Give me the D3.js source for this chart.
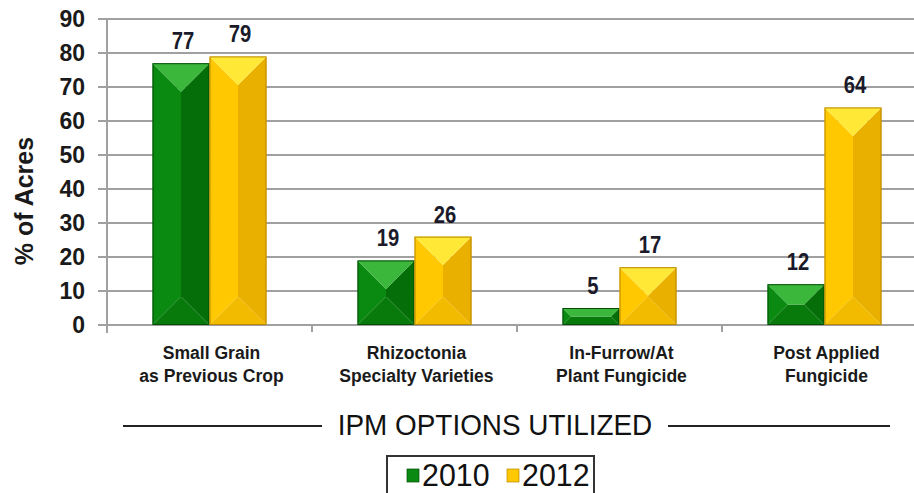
<!DOCTYPE html>
<html><head><meta charset="utf-8">
<script src="https://cdn.jsdelivr.net/npm/d3@7"></script>
<style>
body{margin:0;background:#fff;}
svg{display:block;}
</style></head>
<body>
<svg id="c" width="914" height="493"></svg>
<script>
const categories = [
  ["Small Grain","as Previous Crop"],
  ["Rhizoctonia","Specialty Varieties"],
  ["In-Furrow/At","Plant Fungicide"],
  ["Post Applied","Fungicide"]
];
const seriesNames = ["2010","2012"];
const values2010 = [77, 19, 5, 12];
const values2012 = [79, 26, 17, 64];
const yTicks = [0,10,20,30,40,50,60,70,80,90];
const axisTitle = "% of Acres";
const xTitle = "IPM OPTIONS UTILIZED";

const svg = d3.select("#c");
const pL = 107, pR = 927, pT = 19, pB = 325;
const y = d3.scaleLinear().domain([0,90]).range([pB, pT]);
const x = d3.scaleBand().domain(d3.range(categories.length)).range([pL, pR]).paddingInner(0).paddingOuter(0);
const font = "Liberation Sans, Arial, sans-serif";

// gridlines
const g = svg.append("g");
g.selectAll("line.grid").data(yTicks).join("line")
  .attr("x1", pL - 9).attr("x2", 914)
  .attr("y1", d => y(d)).attr("y2", d => y(d))
  .attr("stroke", "#a0a0a0").attr("stroke-width", 2);
g.append("line").attr("x1", pL).attr("x2", pL).attr("y1", pT).attr("y2", pB + 8)
  .attr("stroke", "#a0a0a0").attr("stroke-width", 2);
g.selectAll("line.ct").data(d3.range(1, categories.length)).join("line")
  .attr("x1", d => x(d)).attr("x2", d => x(d))
  .attr("y1", pB).attr("y2", pB + 7)
  .attr("stroke", "#a0a0a0").attr("stroke-width", 2);

// y tick labels
g.selectAll("text.yt").data(yTicks).join("text")
  .attr("x", pL - 22).attr("y", d => y(d) + 8)
  .attr("text-anchor", "end")
  .attr("font-family", font)
  .attr("font-weight", "bold").attr("font-size", 23)
  .attr("fill", "#1a1a1a")
  .text(d => d);

// y axis title
svg.append("text")
  .attr("transform", `translate(33,201) rotate(-90)`)
  .attr("text-anchor", "middle")
  .attr("font-family", font)
  .attr("font-weight", "bold").attr("font-size", 25)
  .attr("fill", "#1a1a1a")
  .text(axisTitle);

const palette = {
  "2010": {left:"#0a8a10", right:"#056e09", top:"#3bb83b", bottom:"#077a0b", edge:"#034d06"},
  "2012": {left:"#ffc800", right:"#e9b000", top:"#ffe836", bottom:"#f2bb00", edge:"#b88800"}
};

const data = [];
categories.forEach((c, i) => {
  data.push({i, s:"2010", v: values2010[i]});
  data.push({i, s:"2012", v: values2012[i]});
});

const barW = 57;
function bx(d){ return x(d.i) + x.bandwidth()/2 + (d.s === "2010" ? -barW : 0); }

const bars = svg.append("g").selectAll("g.bar").data(data).join("g");
bars.each(function(d){
  const gg = d3.select(this);
  const x0 = bx(d), x1 = x0 + barW, y0 = y(d.v), y1 = y(0);
  const w = x1 - x0, h = y1 - y0;
  const dd = Math.min(w/2, h/2);
  const p = palette[d.s];
  const poly = pts => pts.map(q => q.join(",")).join(" ");
  gg.append("polygon").attr("points", poly([[x0,y0],[x0+dd,y0+dd],[x0+dd,y1-dd],[x0,y1]])).attr("fill", p.left);
  gg.append("polygon").attr("points", poly([[x1,y0],[x1-dd,y0+dd],[x1-dd,y1-dd],[x1,y1]])).attr("fill", p.right);
  gg.append("rect").attr("x", x0 + w/2).attr("y", y0+dd).attr("width", Math.max(0, w/2 - dd)).attr("height", Math.max(0,h-2*dd)).attr("fill", p.right);
  gg.append("rect").attr("x", x0 + dd).attr("y", y0+dd).attr("width", Math.max(0, w/2 - dd)).attr("height", Math.max(0,h-2*dd)).attr("fill", p.left);
  gg.append("polygon").attr("points", poly([[x0,y1],[x1,y1],[x1-dd,y1-dd],[x0+dd,y1-dd]])).attr("fill", p.bottom);
  gg.append("polygon").attr("points", poly([[x0,y0],[x1,y0],[x1-dd,y0+dd],[x0+dd,y0+dd]])).attr("fill", p.top);
  gg.append("rect").attr("x", x0+0.5).attr("y", y0+0.5).attr("width", w-1).attr("height", h-1)
    .attr("fill", "none").attr("stroke", p.edge).attr("stroke-width", 1);
});

// value labels
svg.append("g").selectAll("text").data(data).join("text")
  .attr("transform", d => `translate(${bx(d) + barW/2 + 2},${y(d.v) - 14}) scale(0.92,1.1)`)
  .attr("text-anchor", "middle")
  .attr("font-family", font)
  .attr("font-weight", "bold").attr("font-size", 22)
  .attr("fill", "#1a1a2a")
  .text(d => d.v);

// category labels
const cl = svg.append("g").selectAll("text").data(categories).join("text")
  .attr("transform", (d,i) => `translate(${x(i) + x.bandwidth()/2 + 2},0) scale(0.95,1)`)
  .attr("text-anchor", "middle")
  .attr("font-family", font)
  .attr("font-weight", "bold").attr("font-size", 18.5)
  .attr("fill", "#1a1a1a");
cl.each(function(d){
  const t = d3.select(this);
  d.forEach((line, k) => t.append("tspan").attr("x", 0).attr("y", 359 + k*23).text(line));
});

// x title with lines
svg.append("text").attr("transform", "translate(495,435) scale(0.93,1)").attr("text-anchor", "middle")
  .attr("font-family", font).attr("font-size", 30).attr("fill", "#111")
  .text(xTitle);
svg.append("line").attr("x1", 123).attr("x2", 322).attr("y1", 426).attr("y2", 426).attr("stroke", "#222").attr("stroke-width", 2);
svg.append("line").attr("x1", 668).attr("x2", 890).attr("y1", 426).attr("y2", 426).attr("stroke", "#222").attr("stroke-width", 2);

// legend
const lg = svg.append("g");
lg.append("rect").attr("x", 387).attr("y", 456).attr("width", 207).attr("height", 45)
  .attr("fill", "#fff").attr("stroke", "#333").attr("stroke-width", 2);
const legendX = [407, 507];
seriesNames.forEach((s, k) => {
  const p = palette[s];
  lg.append("rect").attr("x", legendX[k]).attr("y", 469).attr("width", 12).attr("height", 13).attr("fill", p.left).attr("stroke", p.edge).attr("stroke-width", 0.7);
  lg.append("text").attr("transform", `translate(${legendX[k] + 15},486) scale(0.98,1)`)
    .attr("font-family", font).attr("font-size", 31).attr("fill", "#111")
    .text(s);
});
</script>
</body></html>
